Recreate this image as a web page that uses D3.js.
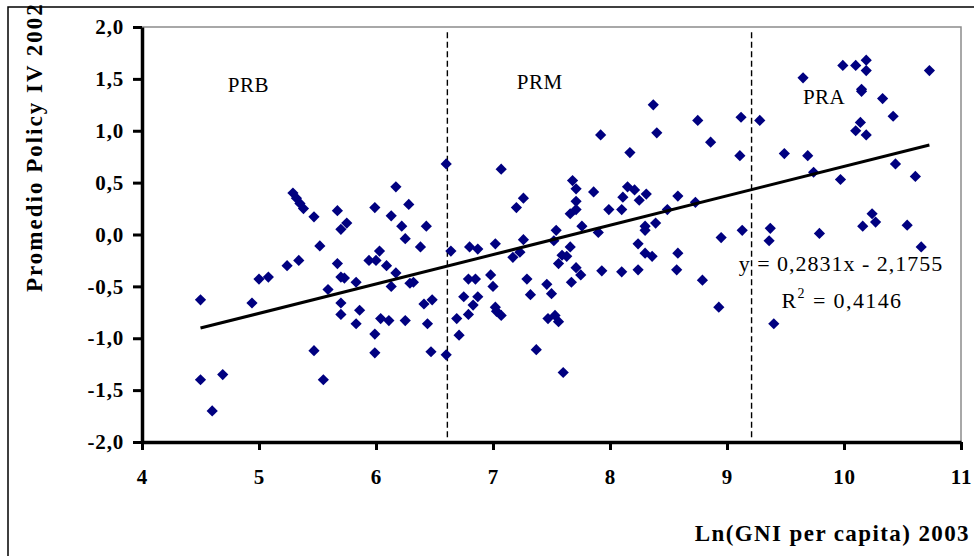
<!DOCTYPE html>
<html>
<head>
<meta charset="utf-8">
<script src="https://cdn.jsdelivr.net/npm/d3@7"></script>
<style>
  html, body { margin: 0; padding: 0; background: #fff; }
  svg { display: block; }
</style>
</head>
<body>
<svg id="chart" width="974" height="556"></svg>
<script>
// Ln(GNI per capita) 2003 vs Promedio Policy IV 2002
const gniLn = [
  4.50, 4.50, 4.60, 4.69, 4.94, 5.00, 5.08, 5.24, 5.29, 5.32,
  5.35, 5.38, 5.47, 5.34, 5.47, 5.52, 5.55, 5.59, 5.67, 5.70,
  5.75, 5.67, 5.70, 5.73, 5.70, 5.70, 5.83, 5.86, 5.83, 5.94,
  6.00, 5.99, 6.03, 6.09, 5.99, 6.04, 6.11, 5.99, 6.13, 6.17,
  6.17, 6.13, 6.22, 6.25, 6.28, 6.25, 6.29, 6.32, 6.38, 6.43,
  6.41, 6.48, 6.44, 6.47, 6.60, 6.60,
  6.64, 6.69, 6.71, 6.75, 6.79, 6.79, 6.80, 6.83, 6.85, 6.87,
  6.87, 6.98, 7.00, 7.02, 7.02, 7.03, 7.07, 7.07, 7.17, 7.20,
  7.23, 7.26, 7.26, 7.29, 7.32, 7.37, 7.46, 7.47, 7.50, 7.52,
  7.53, 7.54, 7.56, 7.56, 7.59, 7.60, 7.63, 7.66, 7.66, 7.67,
  7.68, 7.71, 7.71, 7.71, 7.71, 7.75, 7.76, 7.86, 7.90, 7.92,
  7.93, 7.99, 8.10, 8.10, 8.11, 8.15, 8.17, 8.21, 8.24, 8.24,
  8.25, 8.30, 8.30, 8.30, 8.31, 8.36, 8.37, 8.39, 8.40, 8.49,
  8.57, 8.58, 8.58, 8.73, 8.75, 8.79, 8.86, 8.93, 8.95, 9.12,
  9.11, 9.13,
  9.28, 9.37, 9.36, 9.40, 9.49, 9.65, 9.69, 9.74, 9.79, 9.97,
  9.99, 10.10, 10.19, 10.19, 10.15, 10.15, 10.33, 10.42, 10.14, 10.10,
  10.19, 10.44, 10.61, 10.16, 10.24, 10.27, 10.54, 10.66, 10.73
];
const policy = [
  -0.63, -1.40, -1.70, -1.35, -0.66, -0.43, -0.41, -0.30, 0.40, 0.35,
  0.30, 0.25, 0.17, -0.25, -1.12, -0.11, -1.40, -0.53, 0.23, 0.05,
  0.11, -0.28, -0.41, -0.42, -0.66, -0.77, -0.46, -0.73, -0.86, -0.25,
  -0.25, 0.26, -0.16, -0.30, -0.96, -0.81, -0.83, -1.14, 0.18, 0.46,
  -0.37, -0.50, 0.08, -0.04, 0.29, -0.83, -0.47, -0.46, -0.12, 0.08,
  -0.67, -0.63, -0.86, -1.13, -1.16, 0.68,
  -0.16, -0.81, -0.97, -0.60, -0.43, -0.77, -0.12, -0.68, -0.43, -0.14,
  -0.60, -0.39, -0.50, -0.09, -0.70, -0.74, -0.78, 0.63, -0.22, 0.26,
  -0.17, 0.35, -0.05, -0.43, -0.58, -1.11, -0.48, -0.81, -0.57, -0.06,
  -0.78, 0.04, -0.28, -0.84, -0.20, -1.33, -0.21, -0.12, 0.20, -0.46,
  0.52, 0.44, 0.32, 0.24, -0.32, -0.39, 0.08, 0.41, 0.02, 0.96,
  -0.35, 0.24, 0.24, -0.36, 0.36, 0.46, 0.79, 0.43, -0.09, -0.34,
  0.33, 0.08, 0.04, -0.18, 0.39, -0.21, 1.25, 0.11, 0.98, 0.24,
  -0.34, 0.37, -0.18, 0.31, 1.10, -0.44, 0.89, -0.70, -0.03, 1.13,
  0.76, 0.04,
  1.10, 0.06, -0.06, -0.86, 0.78, 1.51, 0.76, 0.60, 0.01, 0.53,
  1.63, 1.63, 1.68, 1.58, 1.40, 1.38, 1.31, 1.14, 1.08, 1.00,
  0.96, 0.68, 0.56, 0.08, 0.20, 0.12, 0.09, -0.12, 1.58
];
const xTicks = [4, 5, 6, 7, 8, 9, 10, 11];
const yTicks = [-2.0, -1.5, -1.0, -0.5, 0.0, 0.5, 1.0, 1.5, 2.0];
const cutoffs = [6.61, 9.21];               // PRB | PRM | PRA boundaries
const groupLabels = ['PRB', 'PRM', 'PRA'];
const groupLabelAt = [[4.91, 1.37], [7.40, 1.40], [9.83, 1.26]];
const trendSlope = 0.2831, trendIntercept = -2.1755;
const trendRange = [4.50, 10.73];
const eqText = 'y = 0,2831x - 2,1755';
const r2Text = '0,4146';

const svg = d3.select('#chart');
const width = 974, height = 556;
const plotLeft = 142, plotRight = 961, plotTop = 27, plotBottom = 442;

const x = d3.scaleLinear().domain([4, 11]).range([plotLeft, plotRight]);
const y = d3.scaleLinear().domain([-2, 2]).range([plotBottom, plotTop]);
const comma = d => d.toFixed(1).replace('.', ',');
const serif = '"Liberation Serif", "Times New Roman", serif';

// outer chart border
svg.append('rect')
  .attr('x', 8).attr('y', 7)
  .attr('width', width + 20).attr('height', height + 20)
  .attr('fill', 'none')
  .attr('stroke', '#000')
  .attr('stroke-width', 1.5);

// plot area frame (grey top + right)
svg.append('path')
  .attr('d', `M${plotLeft},${plotTop}H${plotRight}V${plotBottom}`)
  .attr('fill', 'none')
  .attr('stroke', '#8c8c8c')
  .attr('stroke-width', 1.5);

// dashed group separators
svg.append('g')
  .selectAll('line')
  .data(cutoffs)
  .enter()
  .append('line')
  .attr('x1', d => x(d)).attr('x2', d => x(d))
  .attr('y1', y(1.95)).attr('y2', y(-1.96))
  .attr('stroke', '#000')
  .attr('stroke-width', 1.4)
  .attr('stroke-dasharray', '6 3.5');

// points (diamonds)
const pts = gniLn.map((g, i) => ({ g, p: policy[i] }));
const r = 5.6;
svg.append('g')
  .selectAll('path')
  .data(pts)
  .enter()
  .append('path')
  .attr('d', d => {
    const cx = x(d.g), cy = y(d.p);
    return `M${cx},${cy - r}L${cx + r},${cy}L${cx},${cy + r}L${cx - r},${cy}Z`;
  })
  .attr('fill', '#000080');

// trend line
svg.append('line')
  .attr('x1', x(trendRange[0]))
  .attr('y1', y(trendSlope * trendRange[0] + trendIntercept))
  .attr('x2', x(trendRange[1]))
  .attr('y2', y(trendSlope * trendRange[1] + trendIntercept))
  .attr('stroke', '#000')
  .attr('stroke-width', 3);

// axes
const yAxis = d3.axisLeft(y).tickValues(yTicks).tickFormat(comma)
  .tickSize(9).tickSizeOuter(0).tickPadding(9);
const yG = svg.append('g').attr('transform', `translate(${plotLeft},0)`).call(yAxis);

const xAxis = d3.axisBottom(x).tickValues(xTicks).tickFormat(d3.format('d'))
  .tickSize(8).tickSizeOuter(0).tickPadding(19);
const xG = svg.append('g').attr('transform', `translate(0,${plotBottom})`).call(xAxis);

[yG, xG].forEach(g => {
  g.select('.domain').attr('stroke', '#000').attr('stroke-width', 3.5);
  g.selectAll('.tick line').attr('stroke', '#000').attr('stroke-width', 3);
  g.selectAll('.tick text')
    .attr('fill', '#000')
    .style('font-family', serif)
    .style('font-size', '21px')
    .style('letter-spacing', '0.8px')
    .style('font-weight', 'bold');
});

// group labels
svg.append('g')
  .selectAll('text')
  .data(groupLabels)
  .enter()
  .append('text')
  .attr('x', (d, i) => x(groupLabelAt[i][0]))
  .attr('y', (d, i) => y(groupLabelAt[i][1]))
  .attr('text-anchor', 'middle')
  .style('font-family', serif)
  .style('font-size', '21px')
  .style('letter-spacing', '0.5px')
  .text(d => d);

// equation + R²
svg.append('text')
  .attr('x', 841).attr('y', 271)
  .attr('text-anchor', 'middle')
  .style('font-family', serif)
  .style('font-size', '22px')
  .style('letter-spacing', '1px')
  .text(eqText);

const r2 = svg.append('text')
  .attr('x', 842).attr('y', 308)
  .attr('text-anchor', 'middle')
  .style('font-family', serif)
  .style('font-size', '22px')
  .style('letter-spacing', '1.4px');
r2.append('tspan').text('R');
r2.append('tspan').attr('dy', -10).style('font-size', '14px').text('2');
r2.append('tspan').attr('dy', 10).text(' = ' + r2Text);

// axis titles
svg.append('text')
  .attr('x', 970).attr('y', 541)
  .attr('text-anchor', 'end')
  .style('font-family', serif)
  .style('font-size', '23px')
  .style('letter-spacing', '1.4px')
  .style('font-weight', 'bold')
  .text('Ln(GNI per capita) 2003');

svg.append('text')
  .attr('transform', 'translate(42,292) rotate(-90)')
  .attr('text-anchor', 'start')
  .style('font-family', serif)
  .style('font-size', '23px')
  .style('letter-spacing', '2px')
  .style('font-weight', 'bold')
  .text('Promedio Policy IV 2002');
</script>
</body>
</html>
